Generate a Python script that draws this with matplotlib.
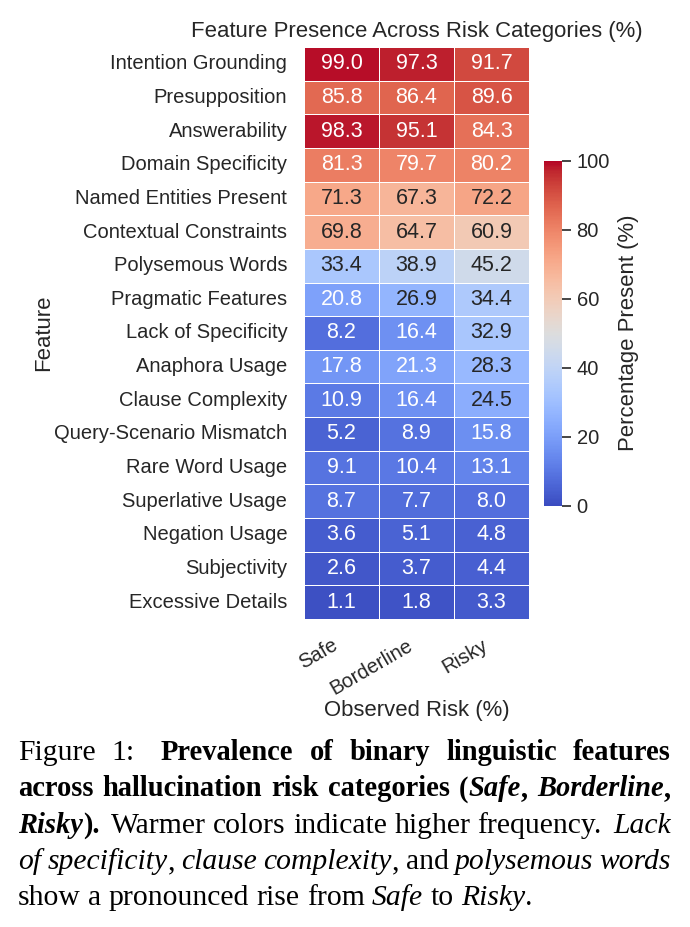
import matplotlib
matplotlib.use('Agg')
import matplotlib.pyplot as plt
import numpy as np
import pandas as pd
import seaborn as sns

# ---------------- data ----------------
features = [
    "Intention Grounding", "Presupposition", "Answerability", "Domain Specificity",
    "Named Entities Present", "Contextual Constraints", "Polysemous Words",
    "Pragmatic Features", "Lack of Specificity", "Anaphora Usage",
    "Clause Complexity", "Query-Scenario Mismatch", "Rare Word Usage",
    "Superlative Usage", "Negation Usage", "Subjectivity", "Excessive Details",
]
categories = ["Safe", "Borderline", "Risky"]
safe = [99.0, 85.8, 98.3, 81.3, 71.3, 69.8, 33.4, 20.8, 8.2, 17.8, 10.9, 5.2, 9.1, 8.7, 3.6, 2.6, 1.1]
borderline = [97.3, 86.4, 95.1, 79.7, 67.3, 64.7, 38.9, 26.9, 16.4, 21.3, 16.4, 8.9, 10.4, 7.7, 5.1, 3.7, 1.8]
risky = [91.7, 89.6, 84.3, 80.2, 72.2, 60.9, 45.2, 34.4, 32.9, 28.3, 24.5, 15.8, 13.1, 8.0, 4.8, 4.4, 3.3]
cbar_ticks = [0, 20, 40, 60, 80, 100]

title = "Feature Presence Across Risk Categories (%)"
xlabel = "Observed Risk (%)"
ylabel = "Feature"
cbar_label = "Percentage Present (%)"

# caption: lines -> words -> (segment, style)
caption_lines = [
    [[("Figure", "r")], [("1:", "r")], [("Prevalence", "b")], [("of", "b")], [("binary", "b")],
     [("linguistic", "b")], [("features", "b")]],
    [[("across", "b")], [("hallucination", "b")], [("risk", "b")], [("categories", "b")],
     [("(", "b"), ("Safe", "bi"), (",", "b")], [("Borderline", "bi"), (",", "b")]],
    [[("Risky", "bi"), (").", "b")], [("Warmer", "r")], [("colors", "r")], [("indicate", "r")],
     [("higher", "r")], [("frequency.", "r")], [("Lack", "i")]],
    [[("of", "i")], [("specificity", "i"), (",", "r")], [("clause", "i")],
     [("complexity", "i"), (",", "r")], [("and", "r")], [("polysemous", "i")], [("words", "i")]],
    [[("show", "r")], [("a", "r")], [("pronounced", "r")], [("rise", "r")], [("from", "r")],
     [("Safe", "i")], [("to", "r")], [("Risky", "i"), (".", "r")]],
]

# ---------------- style ----------------
sns.set_theme(style="white")
plt.rcParams['font.family'] = ['Liberation Sans', 'DejaVu Sans']
dark = '#262626'
label_size = 15.9

W, H = 690, 927
fig = plt.figure(figsize=(W / 100, H / 100), dpi=100)
ax = fig.add_axes([304 / W, 1 - 619 / H, 225 / W, 572 / H])
cax = fig.add_axes([544 / W, 1 - 505.7 / H, 18 / W, 345 / H])

df = pd.DataFrame({"Safe": safe, "Borderline": borderline, "Risky": risky}, index=features)
sns.heatmap(df, ax=ax, cbar_ax=cax, annot=True, fmt=".1f", cmap="coolwarm",
            vmin=0, vmax=100, linewidths=0.5, linecolor='white',
            annot_kws={'fontsize': 15.5},
            cbar_kws={'ticks': cbar_ticks})

ax.set_yticklabels(features, rotation=0)
ax.set_xticklabels(categories, rotation=30, ha='right')
ax.tick_params(axis='y', length=0, pad=12, labelsize=14.5, labelcolor=dark)
ax.tick_params(axis='x', length=0, pad=12, labelsize=14.5, labelcolor=dark)
ax.set_title(title, fontsize=label_size, color=dark, pad=7)
ax.set_xlabel(xlabel, fontsize=label_size, color=dark)
ax.xaxis.set_label_coords(0.5, -0.141)
ax.set_ylabel(ylabel, fontsize=label_size, color=dark)
ax.yaxis.set_label_coords(-1.11, 0.5)

cbar = ax.collections[0].colorbar
cbar.outline.set_visible(False)
cbar.ax.minorticks_off()
cbar.ax.yaxis.set_tick_params(which='major', right=True, length=6.5, width=1.2,
                              color=dark, labelsize=14.5, labelcolor=dark, pad=4)
cbar.set_label(cbar_label, fontsize=label_size, color=dark, labelpad=6)

# ---------------- caption (justified) ----------------
renderer = fig.canvas.get_renderer()
cap_size = 21.3
style_props = {
    'r': dict(fontweight='normal', fontstyle='normal', fontsize=cap_size),
    'b': dict(fontweight='bold', fontstyle='normal', fontsize=cap_size * 0.965),
    'i': dict(fontweight='normal', fontstyle='italic', fontsize=cap_size),
    'bi': dict(fontweight='bold', fontstyle='italic', fontsize=cap_size * 0.965),
}


def seg_width(txt, st):
    t = fig.text(0, 0, txt, family='Liberation Serif', **style_props[st])
    w = t.get_window_extent(renderer).width
    t.remove()
    return w


space_w = seg_width("a a", 'r') - seg_width("aa", 'r')
left_px, right_px = 18, 671
baselines = [760, 796.5, 832.7, 869, 905]

for li, line in enumerate(caption_lines):
    widths = [[seg_width(s, st) for s, st in word] for word in line]
    word_w = [sum(w) for w in widths]
    gaps_weight = []
    for word in line[:-1]:
        last = word[-1][0]
        gaps_weight.append(1.6 if last.endswith((':', '.')) else 1.0)
    if li < len(caption_lines) - 1:
        extra = (right_px - left_px) - sum(word_w)
        unit = extra / sum(gaps_weight)
    else:
        unit = space_w
    x = left_px
    for wi, word in enumerate(line):
        sx = x
        for (s, st), w in zip(word, widths[wi]):
            fig.text(sx / W, 1 - baselines[li] / H, s, family='Liberation Serif',
                     color='black', va='baseline', ha='left', **style_props[st])
            sx += w
        x += word_w[wi]
        if wi < len(gaps_weight):
            x += unit * gaps_weight[wi]

fig.savefig("out.png", dpi=100)
